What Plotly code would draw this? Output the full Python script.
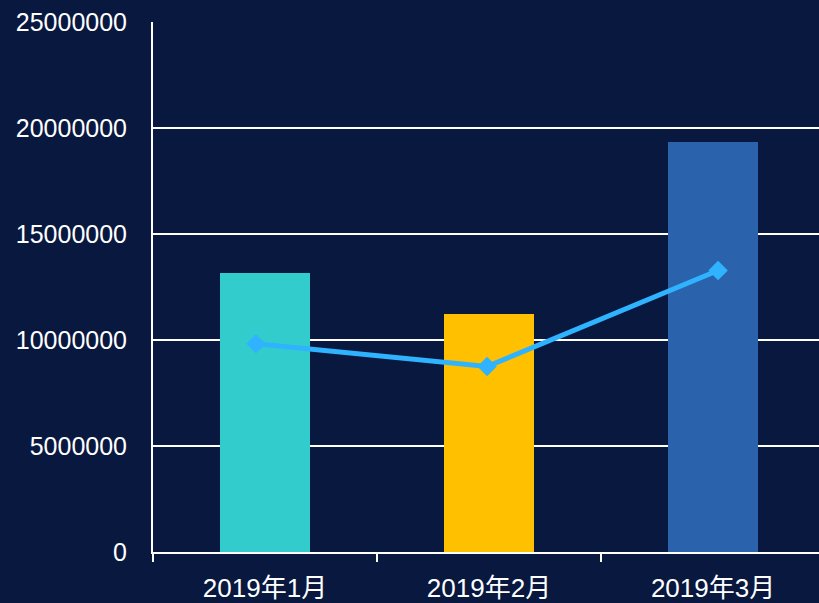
import plotly.graph_objects as go

categories = ["2019年1月", "2019年2月", "2019年3月"]
bar_values = [13170000, 11240000, 19340000]
line_values = [9820000, 8750000, 13280000]
bar_colors = ["#33CCCC", "#FFC000", "#2A63AB"]
y_ticks = [0, 5000000, 10000000, 15000000, 20000000, 25000000]

bg = "#08183F"
font_family = "Liberation Sans, Noto Sans CJK SC, sans-serif"

fig = go.Figure()
fig.add_trace(go.Bar(
    x=categories, y=bar_values, marker=dict(color=bar_colors, line=dict(width=0)),
    width=0.402, xaxis="x", yaxis="y", showlegend=False, hoverinfo="x+y",
))
fig.add_trace(go.Scatter(
    x=categories, y=line_values, mode="lines+markers",
    line=dict(color="#2FB3FF", width=5),
    marker=dict(symbol="diamond", size=15, color="#2FB3FF"),
    xaxis="x2", yaxis="y", showlegend=False,
))

fig.update_layout(
    width=819, height=603,
    margin=dict(l=153, r=0, t=22, b=51),
    paper_bgcolor=bg, plot_bgcolor=bg,
    font=dict(family=font_family, color="white", size=25),
    bargap=0,
    xaxis=dict(
        type="category", range=[-0.5, 2.473],
        showgrid=False, zeroline=False,
        showline=True, linecolor="white", linewidth=2,
        tickson="boundaries", ticks="outside", ticklen=8, tickwidth=1.5, tickcolor="white",
        ticklabelstandoff=12,
        tickfont=dict(size=26, family=font_family, color="white"),
        fixedrange=True,
    ),
    xaxis2=dict(
        type="category", range=[-0.446, 2.437], overlaying="x",
        visible=False, fixedrange=True,
    ),
    yaxis=dict(
        range=[0, 25000000], tickvals=y_ticks, ticktext=[str(v) for v in y_ticks],
        showgrid=True, gridcolor="white", gridwidth=1.5,
        zeroline=False, showline=True, linecolor="white", linewidth=2,
        ticks="", ticklabelstandoff=19,
        tickfont=dict(size=25, color="white"),
        fixedrange=True,
    ),
)

fig.write_html(
    "out.html",
    config={"displayModeBar": False},
    post_script="document.body.style.margin='0';document.body.style.background='%s';document.body.style.overflow='hidden';" % bg,
)
